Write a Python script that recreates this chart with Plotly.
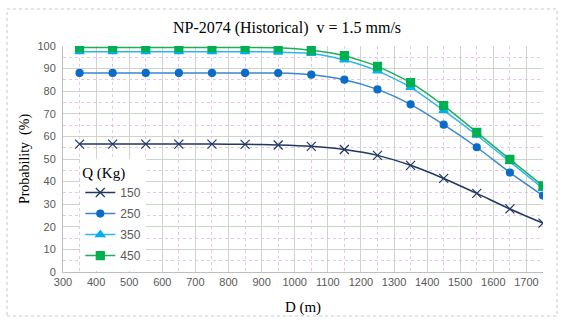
import plotly.graph_objects as go

D = [350, 450, 550, 650, 750, 850, 950, 1050, 1150, 1250, 1350, 1450, 1550, 1650, 1750]
q150 = [56.6, 56.6, 56.6, 56.6, 56.6, 56.5, 56.2, 55.6, 54.2, 51.6, 47.2, 41.4, 34.8, 27.9, 21.6]
q250 = [88.1, 88.1, 88.1, 88.1, 88.1, 88.1, 88.0, 87.3, 85.1, 80.8, 74.2, 65.2, 55.2, 44.0, 33.8]
q350 = [97.5, 97.5, 97.5, 97.5, 97.5, 97.5, 97.3, 96.7, 93.8, 89.0, 81.7, 71.5, 60.5, 48.8, 37.0]
q450 = [99.3, 99.3, 99.3, 99.3, 99.3, 99.3, 99.2, 98.1, 95.7, 91.0, 83.8, 73.6, 61.8, 49.8, 38.1]
names = ["150", "250", "350", "450"]
xticks = [300, 400, 500, 600, 700, 800, 900, 1000, 1100, 1200, 1300, 1400, 1500, 1600, 1700]
yticks = [0, 10, 20, 30, 40, 50, 60, 70, 80, 90, 100]

series = [q150, q250, q350, q450]
line_colors = ["#1f3864", "#3d85d0", "#2cb6f0", "#1fae5a"]
marker_colors = ["#1f3864", "#0a6cc8", "#00b0f0", "#00b050"]
symbols = ["x-thin-open", "circle", "triangle-up", "square"]
sizes = [9, 7, 8, 8]

fig = go.Figure()
for i, (nm, ys) in enumerate(zip(names, series)):
    fig.add_trace(go.Scatter(
        x=D, y=ys, name=nm, mode="lines+markers",
        legendgroup=nm,
        line=dict(color=line_colors[i], width=1.5, shape="spline", smoothing=0.6),
        marker=dict(symbol=symbols[i], size=sizes[i], color=marker_colors[i],
                    line=dict(color=marker_colors[i], width=1.2)),
    ))

serif = "Liberation Serif, Times New Roman, serif"
sans = "Liberation Sans, Arial, sans-serif"

fig.update_layout(
    width=574, height=326,
    margin=dict(l=63, r=31, t=46, b=54, autoexpand=False),
    paper_bgcolor="white", plot_bgcolor="white",
    title=dict(text="NP-2074 (Historical)  v = 1.5 mm/s", x=0.5, xanchor="center",
               y=0.917, yanchor="middle", font=dict(family=serif, size=16, color="black")),
    showlegend=True,
    legend=dict(
        title=dict(text="Q (Kg)", side="top", font=dict(family=serif, size=15, color="black")),
        x=0.036, xanchor="left", y=0.502, yanchor="top",
        bgcolor="white", borderwidth=0,
        font=dict(family=sans, size=12, color="#595959"),
        tracegroupgap=2, itemwidth=30,
    ),
    xaxis=dict(
        range=[300, 1750], tickvals=xticks, ticktext=[str(v) for v in xticks],
        automargin=False,
        showgrid=True, gridcolor="#cdd3cd", gridwidth=1,
        minor=dict(dtick=50, tick0=0, showgrid=True, gridcolor="#e9c6e9", griddash="dot", gridwidth=1),
        showline=True, linecolor="#bfbfbf", zeroline=False,
        tickfont=dict(family=sans, size=11, color="#595959"),
        title=dict(text="D (m)", font=dict(family=serif, size=15, color="black"), standoff=14),
    ),
    yaxis=dict(
        range=[0, 100], tickvals=yticks, ticktext=[str(v) for v in yticks],
        automargin=False,
        showgrid=True, gridcolor="#cdd3cd", gridwidth=1,
        minor=dict(dtick=5, tick0=0, showgrid=True, gridcolor="#e9c6e9", griddash="dot", gridwidth=1),
        showline=True, linecolor="#bfbfbf", zeroline=False,
        tickfont=dict(family=sans, size=11, color="#595959"),
        ticklabelstandoff=4,
        title=dict(text="Probability  (%)", font=dict(family=serif, size=14, color="black"), standoff=4),
    ),
    shapes=[dict(type="rect", xref="paper", yref="paper",
                 x0=(7 - 63) / 480, x1=(557 - 63) / 480,
                 y0=(272 - 316) / 226, y1=(272 - 9) / 226,
                 line=dict(color="#c8c8c8", width=1, dash="dot"), layer="below")],
)

fig.write_html("out.html", config={"displayModeBar": False},
               post_script="document.body.style.margin='0';")
